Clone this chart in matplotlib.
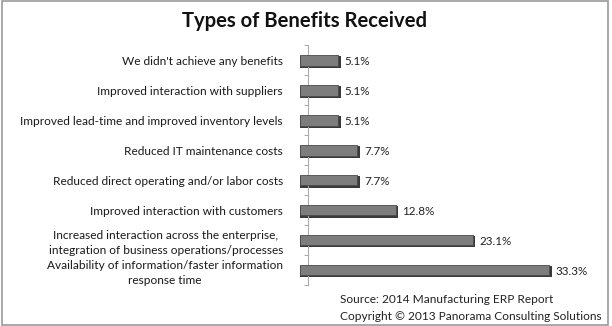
import matplotlib
matplotlib.use("Agg")
import matplotlib.pyplot as plt
from matplotlib.patches import Rectangle
import numpy as np

plt.rcParams["font.family"] = ["Lato", "DejaVu Sans"]

TITLE = "Types of Benefits Received"
categories = [
    "We didn't achieve any benefits",
    "Improved interaction with suppliers",
    "Improved lead-time and improved inventory levels",
    "Reduced IT maintenance costs",
    "Reduced direct operating and/or labor costs",
    "Improved interaction with customers",
    "Increased interaction across the enterprise,\nintegration of business operations/processes",
    "Availability of information/faster information\nresponse time",
]
values = [5.1, 5.1, 5.1, 7.7, 7.7, 12.8, 23.1, 33.3]
source_lines = [
    "Source: 2014 Manufacturing ERP Report",
    "Copyright \u00a9 2013 Panorama Consulting Solutions",
]

fig = plt.figure(figsize=(6.12, 3.26), dpi=100)
ax = fig.add_axes([0.490, 0.126, 0.489, 0.735])

# spine position first: moving it resets the ticks
for side in ("top", "right", "bottom"):
    ax.spines[side].set_visible(False)
ax.spines["left"].set_color("#aaaaaa")
ax.spines["left"].set_position(("data", 1.1))

y = np.arange(len(categories))
# dark "shadow" under each bar for the faux-3D look
ax.barh(y + 0.06, [v + 0.35 for v in values], height=0.38, left=0,
        color="#3a3a3a", zorder=2)
ax.barh(y, values, height=0.36, color="#7d7d7d", edgecolor="#4a4a4a",
        linewidth=0.6, zorder=3)

for yi, v in zip(y, values):
    ax.text(v + 0.9, yi + 0.05, f"{v}%", va="center", ha="left",
            fontsize=8.4, color="#222222")

ax.set_xlim(0, 40)
ax.set_ylim(len(categories) - 0.5, -0.5)
ax.set_yticks(y)
ax.set_yticklabels(categories, fontsize=8.6, color="#1a1a1a",
                   linespacing=1.45)
for lbl in ax.get_yticklabels():
    lbl.set_multialignment("center")
ax.tick_params(axis="y", which="major", length=0, pad=18)
ax.set_yticks(np.arange(-0.5, len(categories), 1), minor=True)
ax.tick_params(axis="y", which="minor", length=3, color="#999999",
               direction="out")
ax.set_xticks([])

fig.text(0.498, 0.935, TITLE, ha="center", va="center", fontsize=14.6,
         fontweight="bold", color="#111111")
fig.text(0.556, 0.080, source_lines[0], ha="left", va="center",
         fontsize=8.6, color="#222222")
fig.text(0.556, 0.028, source_lines[1], ha="left", va="center",
         fontsize=8.6, color="#222222")

fig.patches.append(Rectangle((0.004, 0.002), 0.99, 0.996,
                             transform=fig.transFigure, fill=False,
                             edgecolor="#9a9a9a", linewidth=1.2))

fig.savefig("out.png", dpi=100)
